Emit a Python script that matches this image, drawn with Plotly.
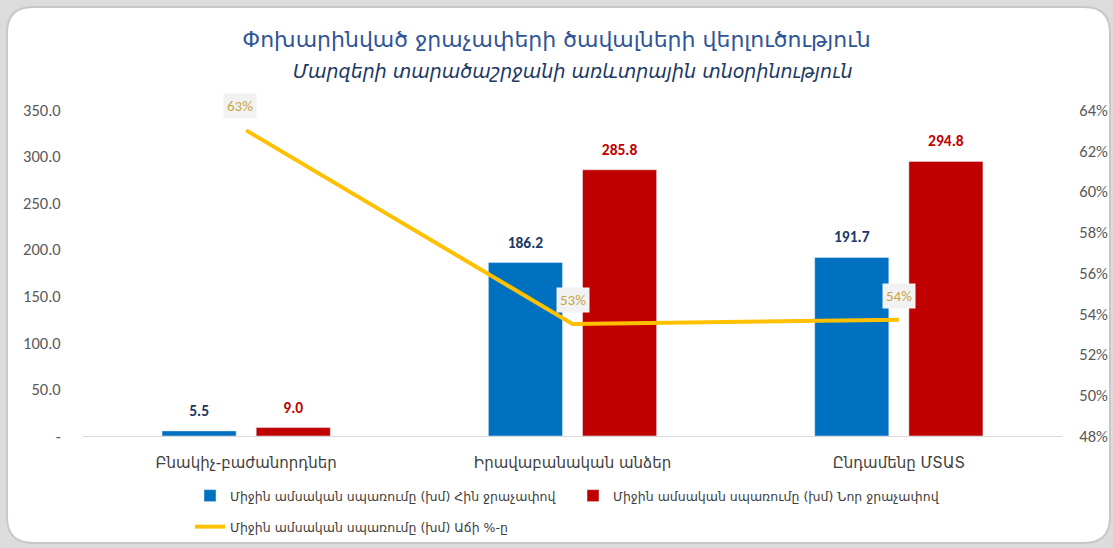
import plotly.graph_objects as go

categories = ["Բնակիչ-բաժանորդներ", "Իրավաբանական անձեր", "Ընդամենը ՄՏԱՏ"]
old_meter = [5.5, 186.2, 191.7]
new_meter = [9.0, 285.8, 294.8]
growth = [0.630, 0.535, 0.537]
growth_labels = ["63%", "53%", "54%"]
left_tickvals = [0, 50, 100, 150, 200, 250, 300, 350]
left_ticktext = ["-", "50.0", "100.0", "150.0", "200.0", "250.0", "300.0", "350.0"]
series_names = [
    "Միջին ամսական սպառումը (խմ) Հին ջրաչափով",
    "Միջին ամսական սպառումը (խմ) Նոր ջրաչափով",
    "Միջին ամսական սպառումը (խմ) Աճի %-ը",
]
title_text = "Փոխարինված ջրաչափերի ծավալների վերլուծություն"
subtitle_text = "Մարզերի տարածաշրջանի առևտրային տնօրինություն"

W, H = 1113, 548
ML, MR, MT, MB = 83, 51, 110, 112
PW, PH = W - ML - MR, H - MT - MB

FONT = "Calibri, Carlito, 'Open Sans', 'DejaVu Sans', sans-serif"
ARM = "'DejaVu Sans', 'Open Sans', sans-serif"
PAD = "<span style='font-size:46px'> </span>"


def px(x):
    return (x - ML) / PW


def py(y):
    return (H - MB - y) / PH


fig = go.Figure()
fig.add_trace(go.Bar(
    x=categories, y=old_meter, name=series_names[0], marker_color="#0070c0",
    texttemplate=PAD + "<b>%{y:.1f}</b>" + PAD,
    textposition="outside", constraintext="none",
    textfont=dict(color="#203864", size=15.5, family=FONT), cliponaxis=False,
    legend="legend",
))
fig.add_trace(go.Bar(
    x=categories, y=new_meter, name=series_names[1], marker_color="#c00000",
    texttemplate=PAD + "<b>%{y:.1f}</b>" + PAD,
    textposition="outside", constraintext="none",
    textfont=dict(color="#c00000", size=15.5, family=FONT), cliponaxis=False,
    legend="legend",
))
fig.add_trace(go.Scatter(
    x=categories, y=growth, name=series_names[2], mode="lines",
    line=dict(color="#ffc000", width=4), yaxis="y2", legend="legend2",
))

for c, g, t in zip(categories, growth, growth_labels):
    fig.add_annotation(
        x=c, y=g, xref="x", yref="y2", text=t, showarrow=False, yshift=24,
        xshift=-6 if g > 0.6 else 0,
        bgcolor="#f2f2f2", font=dict(color="#c8a544", size=15, family=FONT),
        borderpad=3,
    )

# card background
l, t, r, b, rad = 7, 7, 1110, 543, 26
path = (
    f"M {px(l+rad)},{py(t)} L {px(r-rad)},{py(t)} Q {px(r)},{py(t)} {px(r)},{py(t+rad)} "
    f"L {px(r)},{py(b-rad)} Q {px(r)},{py(b)} {px(r-rad)},{py(b)} "
    f"L {px(l+rad)},{py(b)} Q {px(l)},{py(b)} {px(l)},{py(b-rad)} "
    f"L {px(l)},{py(t+rad)} Q {px(l)},{py(t)} {px(l+rad)},{py(t)} Z"
)
fig.add_shape(type="path", path=path, xref="paper", yref="paper",
              fillcolor="white", line=dict(color="#c8c8c8", width=2), layer="below")

fig.update_layout(
    width=W, height=H,
    margin=dict(l=ML, r=MR, t=MT, b=MB, autoexpand=False),
    paper_bgcolor="#dcdcdc", plot_bgcolor="rgba(0,0,0,0)",
    barmode="group", bargap=0.423, bargroupgap=0.213,
    title=dict(
        text=title_text, x=0.5, xanchor="center", y=1 - 39 / H, yanchor="middle",
        font=dict(family=ARM, size=22, color="#2f5597"),
    ),
    font=dict(family=FONT, color="#595959", size=16),
    xaxis=dict(
        showline=True, linecolor="#d9d9d9", linewidth=1, showgrid=False,
        ticks="outside", ticklen=13, tickcolor="rgba(0,0,0,0)", automargin=False,
        tickfont=dict(family=ARM, size=15, color="#404040"),
    ),
    yaxis=dict(
        range=[0, 350], tickvals=left_tickvals, ticktext=left_ticktext,
        showgrid=False, zeroline=False, ticks="outside", ticklen=18,
        tickcolor="rgba(0,0,0,0)", tickfont=dict(size=16.5, color="#595959"),
        automargin=False,
    ),
    yaxis2=dict(
        overlaying="y", side="right", range=[0.48, 0.64], dtick=0.02,
        tickformat=".0%", showgrid=False, zeroline=False, ticks="outside",
        ticklen=13, tickcolor="rgba(0,0,0,0)", tickfont=dict(size=16.5, color="#595959"),
        automargin=False,
    ),
    legend=dict(
        orientation="h", xref="container", yref="container",
        x=190 / W, xanchor="left", y=1 - 496 / H, yanchor="middle",
        entrywidth=338, entrywidthmode="pixels",
        font=dict(family=ARM, size=12.5, color="#404040"), bgcolor="rgba(0,0,0,0)",
    ),
    legend2=dict(
        orientation="h", xref="container", yref="container",
        x=190 / W, xanchor="left", y=1 - 527 / H, yanchor="middle",
        font=dict(family=ARM, size=12.5, color="#404040"), bgcolor="rgba(0,0,0,0)",
    ),
    showlegend=True,
)
fig.add_annotation(
    x=0.5, xref="paper", y=py(71), yref="paper", yanchor="middle",
    text=f"<i>{subtitle_text}</i>",
    showarrow=False, font=dict(family=ARM, size=19, color="#203864"),
)

fig.write_html("out.html", config={"displayModeBar": False},
               post_script="document.body.style.margin='0';")
